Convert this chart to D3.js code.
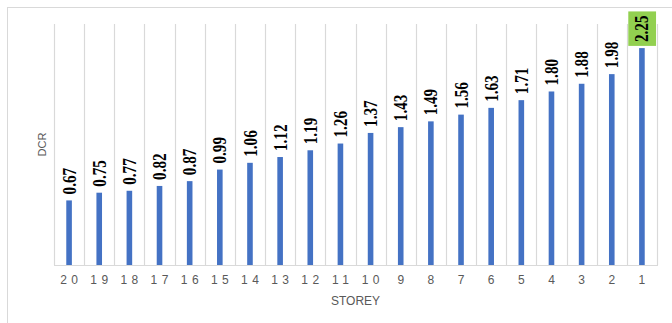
<!DOCTYPE html>
<html>
<head>
<meta charset="utf-8">
<script src="https://cdn.jsdelivr.net/npm/d3@7"></script>
<style>
  html, body { margin: 0; padding: 0; background: #ffffff; }
  svg { display: block; }
</style>
</head>
<body>
<svg id="chart" width="672" height="323"></svg>
<script>
const storeys = ["20","19","18","17","16","15","14","13","12","11","10","9","8","7","6","5","4","3","2","1"];
const dcr = [0.67,0.75,0.77,0.82,0.87,0.99,1.06,1.12,1.19,1.26,1.37,1.43,1.49,1.56,1.63,1.71,1.80,1.88,1.98,2.25];
const highlighted = ["1"];
const yDomain = [0, 2.5];
const xTitle = "STOREY";
const yTitle = "DCR";

const svg = d3.select("#chart");
const plot = { left: 54, right: 657, top: 24, bottom: 265 };

// outer chart border
svg.append("rect")
  .attr("x", 7.5).attr("y", 7.5)
  .attr("width", 720).attr("height", 400)
  .attr("fill", "#ffffff")
  .attr("stroke", "#d9d9d9").attr("stroke-width", 1);

const x = d3.scaleBand().domain(storeys).range([plot.left, plot.right]).padding(0);
const y = d3.scaleLinear().domain(yDomain).range([plot.bottom, plot.top]);

// vertical gridlines at category boundaries
const bounds = storeys.map(s => x(s)).concat([plot.right]);
svg.append("g").selectAll("line").data(bounds).join("line")
  .attr("x1", d => Math.round(d) + 0.5).attr("x2", d => Math.round(d) + 0.5)
  .attr("y1", y(yDomain[1])).attr("y2", y(0))
  .attr("stroke", "#d9d9d9").attr("stroke-width", 1.2);

// baseline axis
svg.append("line")
  .attr("x1", plot.left).attr("x2", plot.right + 1)
  .attr("y1", y(0) + 0.5).attr("y2", y(0) + 0.5)
  .attr("stroke", "#d9d9d9").attr("stroke-width", 1.2);

// bars
const barW = 5.6;
const data = storeys.map((s, i) => ({ s, v: dcr[i] }));
svg.append("g").selectAll("rect").data(data).join("rect")
  .attr("x", d => x(d.s) + x.bandwidth() / 2 - barW / 2)
  .attr("y", d => y(d.v))
  .attr("width", barW)
  .attr("height", d => y(0) - y(d.v))
  .attr("fill", "#4472c4");

// value labels (rotated, slightly condensed like the source)
const lblG = svg.append("g");
data.forEach(d => {
  const cx = x(d.s) + x.bandwidth() / 2;
  const yy = y(d.v) - 6;
  const g = lblG.append("g").attr("transform", `translate(${cx},${yy}) rotate(-90) scale(0.95,1.2)`);
  const t = g.append("text")
    .attr("x", 0).attr("y", 0)
    .attr("dy", "0.34em")
    .attr("text-anchor", "start")
    .attr("font-family", "'Liberation Serif', 'Times New Roman', serif")
    .attr("font-weight", "bold")
    .attr("font-size", 16)
    .attr("fill", "#000000")
    .text(d.v.toFixed(2));
  if (highlighted.includes(d.s)) {
    const bb = t.node().getBBox();
    const hb = x.bandwidth() / 1.2;
    g.insert("rect", "text")
      .attr("x", bb.x - 4).attr("y", -hb / 2 + 1.2)
      .attr("width", bb.width + 8).attr("height", hb - 2)
      .attr("fill", "#92d050");
  }
});

// x tick labels
const ls = 4.5;
svg.append("g").selectAll("text").data(storeys).join("text")
  .attr("x", d => x(d) + x.bandwidth() / 2 + ls / 2)
  .attr("y", 284)
  .attr("text-anchor", "middle")
  .attr("font-family", "'Liberation Sans', Arial, sans-serif")
  .attr("font-size", 12)
  .attr("letter-spacing", ls)
  .attr("fill", "#595959")
  .text(d => d);

// axis titles
svg.append("text")
  .attr("x", (plot.left + plot.right) / 2).attr("y", 305)
  .attr("text-anchor", "middle")
  .attr("font-family", "'Liberation Sans', Arial, sans-serif")
  .attr("font-size", 12)
  .attr("fill", "#595959")
  .text(xTitle);

svg.append("text")
  .attr("transform", `translate(46,${(plot.top + plot.bottom) / 2}) rotate(-90)`)
  .attr("text-anchor", "middle")
  .attr("font-family", "'Liberation Sans', Arial, sans-serif")
  .attr("font-size", 11)
  .attr("fill", "#595959")
  .text(yTitle);
</script>
</body>
</html>
